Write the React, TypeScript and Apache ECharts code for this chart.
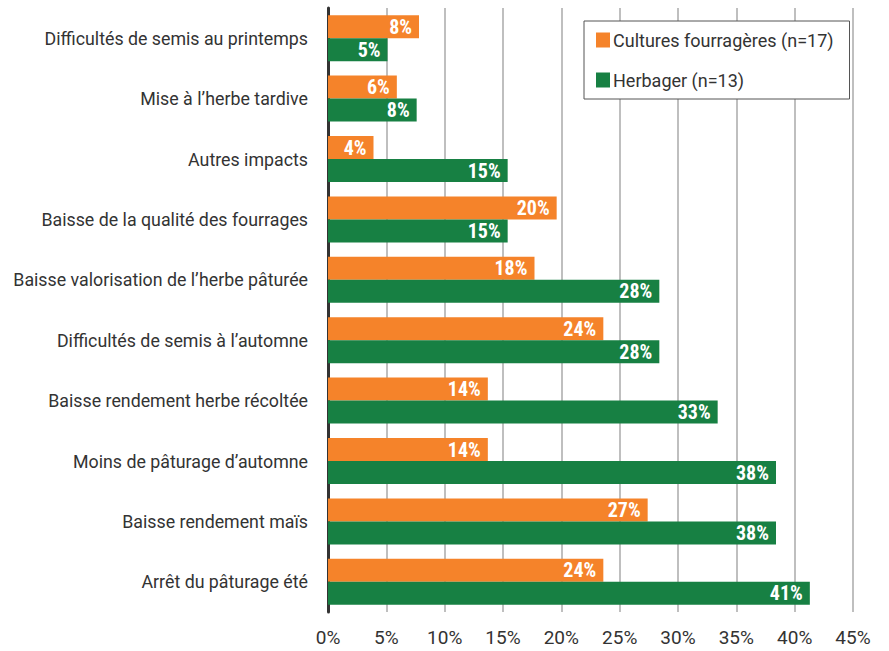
import React, { useEffect, useRef } from "react";
import * as echarts from "echarts";

const categories = [
  "Difficultés de semis au printemps",
  "Mise à l’herbe tardive",
  "Autres impacts",
  "Baisse de la qualité des fourrages",
  "Baisse valorisation de l’herbe pâturée",
  "Difficultés de semis à l’automne",
  "Baisse rendement herbe récoltée",
  "Moins de pâturage d’automne",
  "Baisse rendement maïs",
  "Arrêt du pâturage été",
];

const culturesValues = [7.8, 5.9, 3.9, 19.6, 17.7, 23.6, 13.7, 13.7, 27.4, 23.6];
const herbagerValues = [5.1, 7.6, 15.4, 15.4, 28.4, 28.4, 33.4, 38.4, 38.4, 41.3];

const seriesNames = ["Cultures fourragères (n=17)", "Herbager (n=13)"];
const xTicks = { min: 0, max: 45, interval: 5 };

const ORANGE = "#F5832A";
const GREEN = "#178043";
const labelFont = "'Roboto Condensed', 'Liberation Sans Narrow', 'DejaVu Sans Condensed', Roboto, sans-serif";
const textFont = "Roboto, 'Noto Sans', sans-serif";

export default function App() {
  const ref = useRef<HTMLDivElement>(null);
  useEffect(() => {
    if (!ref.current) return;
    const chart = echarts.init(ref.current, null, { renderer: "svg" });
    const barLabel = {
      show: true,
      position: "insideRight",
      distance: 7,
      color: "#fff",
      fontWeight: "bold",
      fontSize: 20,
      fontFamily: labelFont,
      formatter: (p: any) => Math.round(p.value) + "%",
    };
    chart.setOption({
      animation: false,
      backgroundColor: "#fff",
      grid: { left: 328, right: 36, top: 8, bottom: 39, containLabel: false },
      legend: {
        orient: "vertical",
        left: 584,
        top: 21,
        padding: [10, 16, 10, 12],
        itemGap: 22,
        itemWidth: 14,
        itemHeight: 15,
        icon: "rect",
        backgroundColor: "#fff",
        borderColor: "#555",
        borderWidth: 1,
        textStyle: { fontSize: 18, color: "#333", fontFamily: textFont, padding: [0, 0, 0, -2] },
        data: seriesNames,
      },
      xAxis: {
        type: "value",
        min: xTicks.min,
        max: xTicks.max,
        interval: xTicks.interval,
        axisLine: { show: false },
        axisTick: { show: false },
        axisLabel: {
          formatter: "{value}%",
          fontSize: 19,
          color: "#333",
          fontFamily: textFont,
          margin: 16,
        },
        splitLine: { show: true, lineStyle: { color: "#aaa", width: 1.5 } },
      },
      yAxis: {
        type: "category",
        data: categories,
        inverse: true,
        axisLine: { show: true, lineStyle: { color: "#333", width: 3 } },
        axisTick: { show: false },
        axisLabel: { fontSize: 17.8, color: "#333", fontFamily: textFont, margin: 20 },
      },
      series: [
        {
          name: seriesNames[0],
          type: "bar",
          data: culturesValues,
          barWidth: 23,
          barGap: "0%",
          itemStyle: { color: ORANGE },
          label: barLabel,
        },
        {
          name: seriesNames[1],
          type: "bar",
          data: herbagerValues,
          barWidth: 23,
          barGap: "0%",
          itemStyle: { color: GREEN },
          label: barLabel,
        },
      ],
    });
    return () => chart.dispose();
  }, []);
  return (
    <div
      ref={ref}
      style={{ position: "absolute", left: 0, top: 0, width: 889, height: 651 }}
    />
  );
}
